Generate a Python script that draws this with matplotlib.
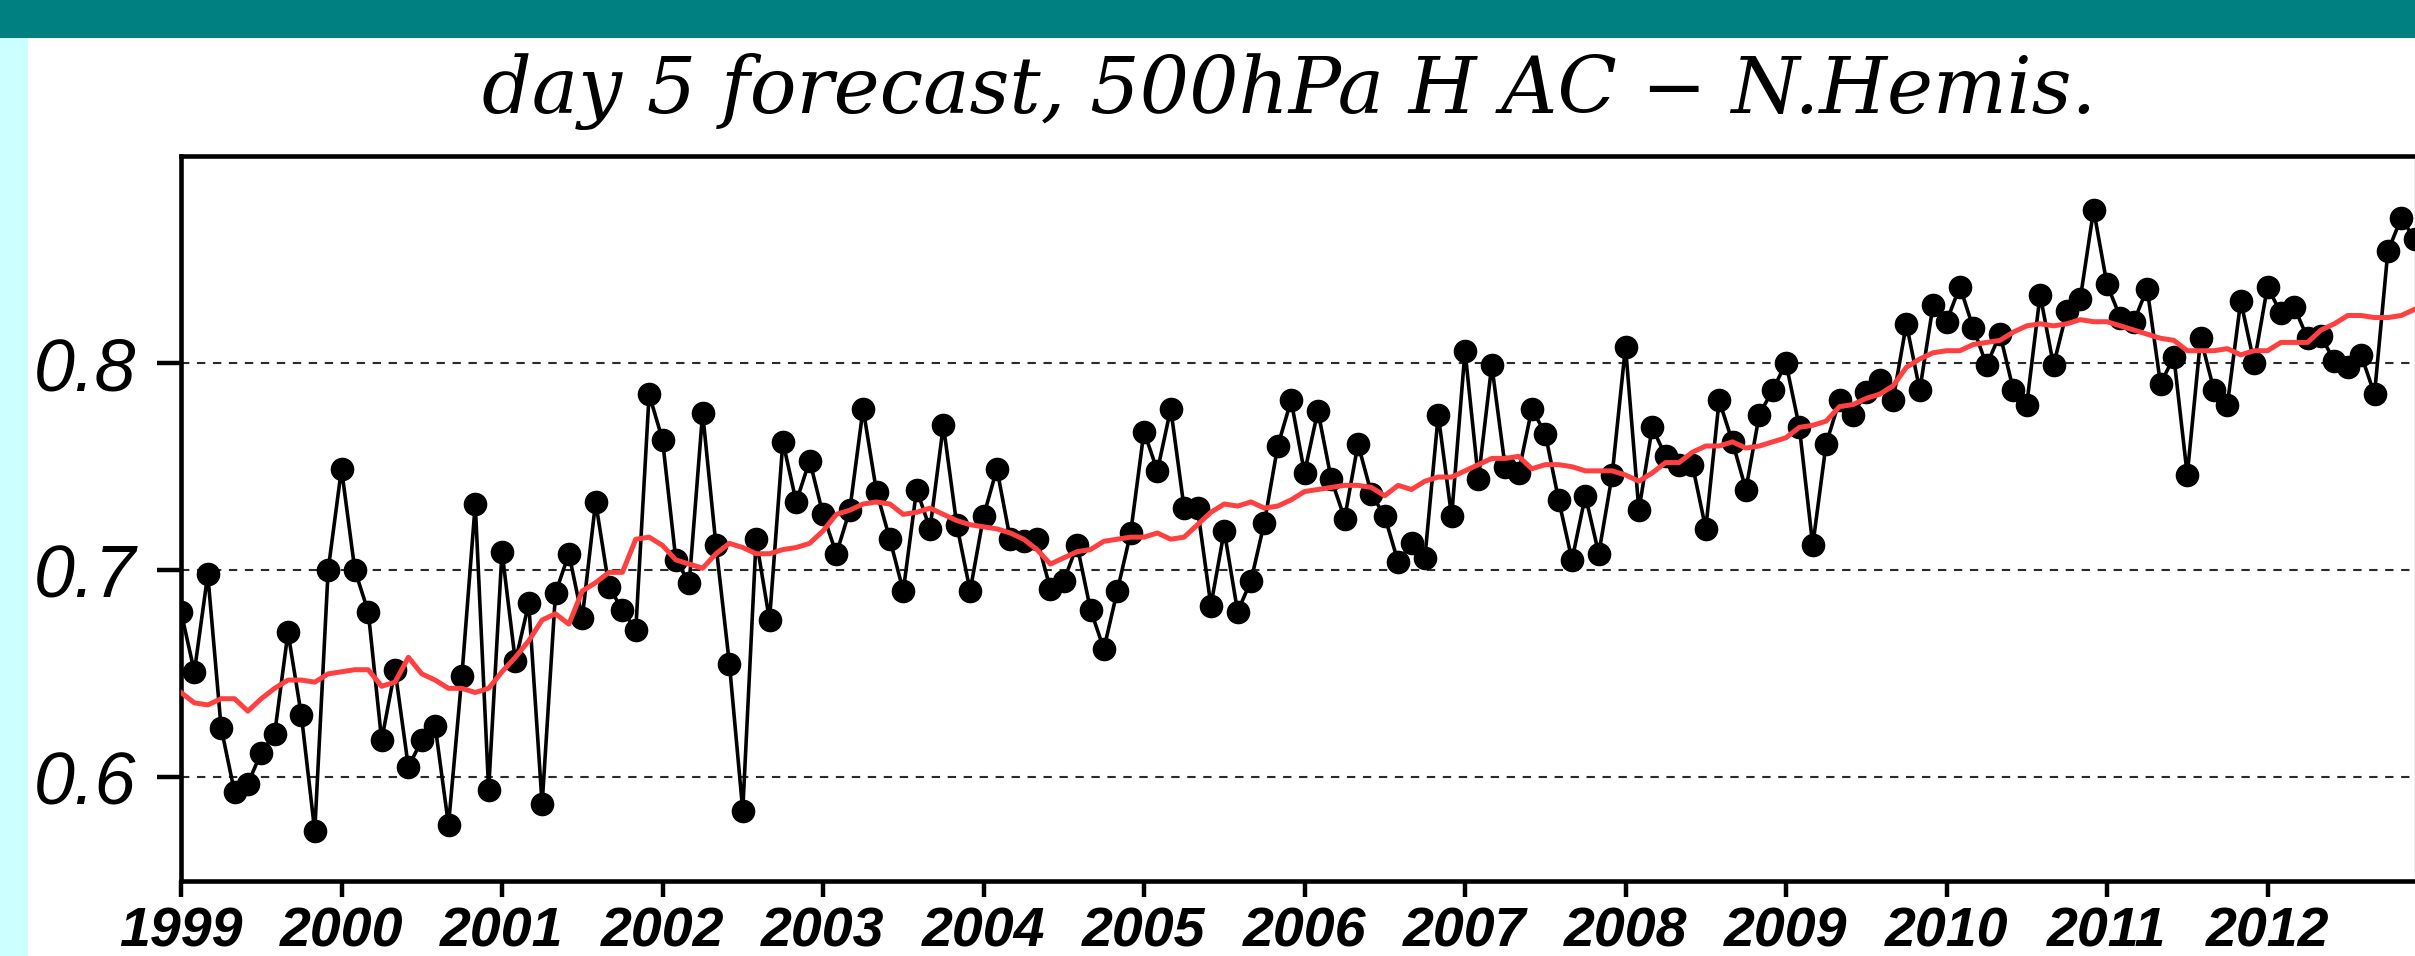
import numpy as np
import matplotlib
matplotlib.use("Agg")
import matplotlib.pyplot as plt
from matplotlib.patches import Rectangle

plt.rcParams['lines.scale_dashes'] = False

# ---------------- data (monthly, Jan 1999 .. Dec 2012) ----------------
start_year = 1999
ac_monthly = [
    0.680, 0.651, 0.698, 0.624, 0.593, 0.597, 0.612, 0.621, 0.670, 0.630, 0.574, 0.700,  # 1999
    0.749, 0.700, 0.680, 0.618, 0.652, 0.605, 0.618, 0.625, 0.577, 0.649, 0.732, 0.594,  # 2000
    0.709, 0.656, 0.684, 0.587, 0.689, 0.708, 0.677, 0.733, 0.692, 0.681, 0.671, 0.785,  # 2001
    0.763, 0.705, 0.694, 0.776, 0.712, 0.655, 0.584, 0.715, 0.676, 0.762, 0.733, 0.753,  # 2002
    0.727, 0.708, 0.729, 0.778, 0.738, 0.715, 0.690, 0.739, 0.720, 0.770, 0.722, 0.690,  # 2003
    0.726, 0.749, 0.715, 0.714, 0.715, 0.691, 0.695, 0.712, 0.681, 0.662, 0.690, 0.718,  # 2004
    0.767, 0.748, 0.778, 0.730, 0.730, 0.683, 0.719, 0.680, 0.695, 0.723, 0.760, 0.782,  # 2005
    0.747, 0.777, 0.744, 0.725, 0.761, 0.737, 0.726, 0.704, 0.713, 0.706, 0.775, 0.726,  # 2006
    0.806, 0.744, 0.799, 0.750, 0.747, 0.778, 0.766, 0.734, 0.705, 0.736, 0.708, 0.746,  # 2007
    0.808, 0.729, 0.769, 0.755, 0.751, 0.751, 0.720, 0.782, 0.762, 0.739, 0.775, 0.787,  # 2008
    0.800, 0.769, 0.712, 0.761, 0.782, 0.775, 0.786, 0.792, 0.782, 0.819, 0.787, 0.828,  # 2009
    0.820, 0.837, 0.817, 0.799, 0.814, 0.787, 0.780, 0.833, 0.799, 0.825, 0.831, 0.874,  # 2010
    0.838, 0.822, 0.820, 0.836, 0.790, 0.803, 0.746, 0.812, 0.787, 0.780, 0.830, 0.800,  # 2011
    0.837, 0.824, 0.827, 0.812, 0.813, 0.801, 0.798, 0.804, 0.785, 0.854, 0.870, 0.860,  # 2012
]
ac_running_mean = [
    0.641, 0.636, 0.635, 0.638, 0.638, 0.632, 0.638, 0.643, 0.647, 0.647, 0.646, 0.650,
    0.651, 0.652, 0.652, 0.644, 0.646, 0.658, 0.650, 0.647, 0.643, 0.643, 0.641, 0.643,
    0.651, 0.658, 0.666, 0.676, 0.679, 0.674, 0.690, 0.694, 0.699, 0.699, 0.715, 0.716,
    0.712, 0.705, 0.703, 0.701, 0.708, 0.713, 0.711, 0.708, 0.708, 0.710, 0.711, 0.713,
    0.719, 0.727, 0.729, 0.732, 0.733, 0.732, 0.727, 0.728, 0.730, 0.727, 0.724, 0.722,
    0.721, 0.720, 0.718, 0.715, 0.710, 0.703, 0.706, 0.709, 0.710, 0.714, 0.715, 0.716,
    0.716, 0.718, 0.715, 0.716, 0.722, 0.728, 0.732, 0.731, 0.733, 0.730, 0.731, 0.734,
    0.738, 0.739, 0.740, 0.741, 0.741, 0.740, 0.736, 0.741, 0.739, 0.743, 0.745, 0.745,
    0.748, 0.751, 0.754, 0.754, 0.755, 0.749, 0.751, 0.751, 0.750, 0.748, 0.748, 0.748,
    0.746, 0.743, 0.747, 0.752, 0.752, 0.757, 0.760, 0.760, 0.762, 0.759, 0.760, 0.762,
    0.764, 0.769, 0.770, 0.772, 0.779, 0.780, 0.783, 0.785, 0.789, 0.798, 0.802, 0.805,
    0.806, 0.806, 0.809, 0.810, 0.811, 0.815, 0.818, 0.819, 0.818, 0.819, 0.821, 0.820,
    0.820, 0.818, 0.816, 0.814, 0.812, 0.811, 0.806, 0.806, 0.806, 0.807, 0.804, 0.806,
    0.806, 0.810, 0.810, 0.810, 0.816, 0.819, 0.823, 0.823, 0.822, 0.822, 0.823, 0.826,
]
year_ticks = list(range(1999, 2013))
year_labels = [str(y) for y in year_ticks]
y_ticks = [0.6, 0.7, 0.8]
y_labels = ["0.6", "0.7", "0.8"]
title_text = "day 5 forecast, 500hPa H AC \u2212 N.Hemis."

t = start_year + np.arange(len(ac_monthly)) / 12.0

# ---------------- figure ----------------
W, H = 2415, 956
fig = plt.figure(figsize=(W / 100, H / 100), dpi=100)
fig.patch.set_facecolor("white")

# teal header band and light cyan side strip
fig.patches.append(Rectangle((0, 1 - 38 / H), 1, 38 / H, transform=fig.transFigure,
                             facecolor="#008080", edgecolor="none", zorder=0))
fig.patches.append(Rectangle((0, 0), 28 / W, 1 - 38 / H, transform=fig.transFigure,
                             facecolor="#ccffff", edgecolor="none", zorder=0))

ax_left, ax_right, ax_top, ax_bottom = 181, W, 156, 881
ax = fig.add_axes([ax_left / W, 1 - ax_bottom / H, (ax_right - ax_left) / W, (ax_bottom - ax_top) / H])

px_per_year = 160.5
ax.set_xlim(1999, 1999 + (ax_right - ax_left) / px_per_year)
ax.set_ylim(0.55, 0.9)

ax.plot(t, ac_monthly, color="black", lw=2.6, marker="o", ms=16, mfc="black", mec="black", zorder=3)
ax.plot(t, ac_running_mean, color="#ff4040", lw=3.6, zorder=4)

ax.set_yticks(y_ticks)
ax.set_yticklabels(y_labels, fontfamily="Liberation Sans", fontstyle="italic", fontsize=53)
ax.set_xticks(year_ticks)
ax.set_xticklabels(year_labels, fontfamily="Liberation Sans", fontstyle="italic",
                   fontweight="bold", fontsize=40)

ax.tick_params(axis="y", direction="out", length=17, width=3.2, pad=15, right=False)
ax.tick_params(axis="x", direction="out", length=11.5, width=3.2, pad=7, top=False)

ax.grid(axis="y", color="#2a2a2a", lw=1.5, ls=(0, (6, 5.5)), zorder=1)
ax.grid(axis="x", visible=False)

for side in ["top", "left", "bottom"]:
    ax.spines[side].set_linewidth(3.3)
    ax.spines[side].set_color("black")
ax.spines["right"].set_linewidth(1.0)
ax.spines["right"].set_color("#bbbbbb")

fig.text(1289 / W, 1 - 113 / H, title_text, ha="center", va="baseline",
         fontfamily="DejaVu Serif", fontstyle="italic", fontsize=56)

fig.savefig("out.png", dpi=100)
